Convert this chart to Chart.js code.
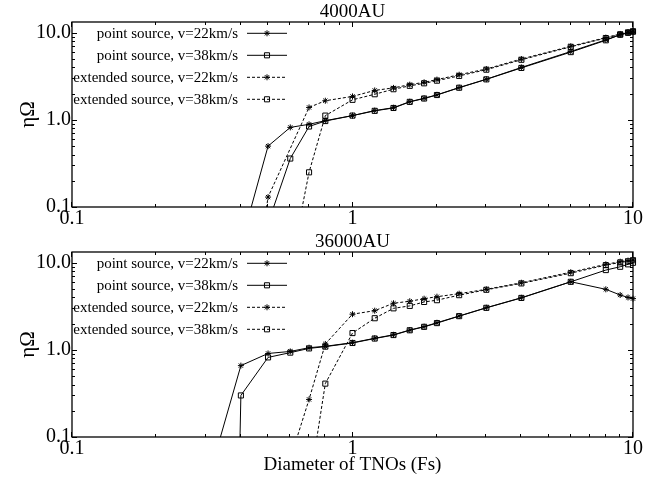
<!DOCTYPE html>
<html>
<head>
<meta charset="utf-8">
<script src="https://cdn.jsdelivr.net/npm/chart.js@4/dist/chart.umd.min.js"></script>
<style>
  html, body { margin: 0; padding: 0; background: #fff; }
  #wrap { position: relative; width: 656px; height: 479px; }
  canvas { position: absolute; left: 0; }
</style>
</head>
<body>
<div id="wrap">
  <canvas id="panelTop" width="656" height="230" style="top:0"></canvas>
  <canvas id="panelBottom" width="656" height="249" style="top:230px"></canvas>
</div>
<script>
// Diameters of TNOs (Fs) at which the efficiency was evaluated
const diameters = [0.3, 0.4, 0.5, 0.6, 0.7, 0.8, 1.0, 1.2, 1.4, 1.6, 1.8, 2.0, 2.4, 3.0, 4.0, 6.0, 8.0, 9.0, 9.6, 10.0];

// 4000 AU
const au4000_point22 = [null, 0.037, 0.50, 0.82, 0.89, 0.98, 1.12, 1.28, 1.38, 1.62, 1.77, 1.94, 2.35, 2.93, 4.0, 6.1, 8.3, 9.5, 10.0, 10.3];
const au4000_point38 = [null, 0.01, 0.065, 0.36, 0.84, 0.97, 1.12, 1.27, 1.37, 1.61, 1.76, 1.93, 2.34, 2.92, 3.95, 6.0, 8.2, 9.5, 10.0, 10.3];
const au4000_ext22   = [null, 0.001, 0.13, null, 1.39, 1.66, 1.86, 2.18, 2.33, 2.54, 2.70, 2.90, 3.30, 3.84, 5.0, 7.0, 8.8, 9.7, 10.2, 10.5];
const au4000_ext38   = [null, null, null, 0.02, 0.25, 1.12, 1.70, 1.97, 2.25, 2.46, 2.63, 2.82, 3.20, 3.77, 4.9, 6.9, 8.7, 9.6, 10.1, 10.4];

// 36000 AU
const au36000_point22 = [0.026, 0.66, 0.91, 0.96, 1.06, 1.10, 1.21, 1.36, 1.49, 1.69, 1.85, 2.05, 2.45, 3.05, 3.97, 6.06, 4.96, 4.27, 4.0, 3.88];
const au36000_point38 = [1e-20, 0.30, 0.82, 0.93, 1.04, 1.09, 1.20, 1.35, 1.48, 1.68, 1.84, 2.03, 2.44, 3.04, 3.95, 6.05, 8.25, 9.0, 9.6, 10.0];
const au36000_ext22   = [null, null, null, 0.056, 0.27, 1.17, 2.57, 2.82, 3.43, 3.62, 3.87, 4.08, 4.42, 4.96, 5.9, 7.8, 9.6, 10.3, 10.6, 10.8];
const au36000_ext38   = [null, null, null, null, 0.026, 0.41, 1.56, 2.31, 3.0, 3.2, 3.55, 3.72, 4.25, 4.9, 5.8, 7.6, 9.4, 10.1, 10.4, 10.7];

const seriesLabels = [
  'point source, v=22km/s',
  'point source, v=38km/s',
  'extended source, v=22km/s',
  'extended source, v=38km/s'
];

const xTickValues = [0.1, 1, 10];
const xTickLabels = ['0.1', '1', '10'];
const yTickValues = [0.1, 1, 10];
const yTickLabels = ['0.1', '1.0', '10.0'];

const xRange = [0.1, 10];
const yRange = [0.1, 13.3];

const SERIF = '"Liberation Serif", "Times New Roman", serif';

function makeDataset(label, values, dashed, marker) {
  return {
    label,
    data: diameters.map((d, i) => ({ x: d, y: values[i] })),
    borderColor: '#000',
    borderWidth: 1,
    borderDash: dashed ? [3, 2] : [],
    pointStyle: marker,
    pointRadius: marker === 'rect' ? 3.6 : 3,
    pointBorderColor: '#000',
    pointBackgroundColor: 'rgba(0,0,0,0)',
    pointBorderWidth: 1,
    tension: 0,
    spanGaps: dashed,
    clip: { left: 0, top: 0, right: 6, bottom: 0 }
  };
}

// Minor/major log tick positions between lo and hi
function logTicks(lo, hi) {
  const out = [];
  for (let e = Math.floor(Math.log10(lo)); e <= Math.ceil(Math.log10(hi)); e++) {
    for (let k = 1; k <= 9; k++) {
      const v = k * Math.pow(10, e);
      if (v >= lo * 0.999 && v <= hi * 1.001) out.push({ v, major: k === 1 });
    }
  }
  return out;
}

// Box frame with inward ticks on all four sides, legend, titles
const framePlugin = {
  id: 'frameTicks',
  afterDraw(chart, args, opts) {
    const ctx = chart.ctx;
    const a = chart.chartArea;
    const xs = chart.scales.x, ys = chart.scales.y;
    ctx.save();
    ctx.strokeStyle = '#000';
    ctx.setLineDash([]);

    // ticks
    ctx.lineWidth = 1;
    ctx.beginPath();
    logTicks(xRange[0], xRange[1]).forEach(t => {
      const px = Math.round(xs.getPixelForValue(t.v)) - 0.5;
      const len = t.major ? 5 : 3;
      ctx.moveTo(px, a.bottom); ctx.lineTo(px, a.bottom - len);
      ctx.moveTo(px, a.top); ctx.lineTo(px, a.top + len);
    });
    logTicks(yRange[0], yRange[1]).forEach(t => {
      const py = Math.round(ys.getPixelForValue(t.v)) + 0.5;
      const len = t.major ? 5 : 3;
      ctx.moveTo(a.left, py); ctx.lineTo(a.left + len, py);
      ctx.moveTo(a.right, py); ctx.lineTo(a.right - len, py);
    });
    ctx.stroke();

    // frame
    ctx.lineWidth = 1.3;
    ctx.strokeRect(a.left, a.top, a.right - a.left, a.bottom - a.top);

    // legend
    ctx.font = '15px ' + SERIF;
    ctx.fillStyle = '#000';
    ctx.textAlign = 'right';
    ctx.textBaseline = 'middle';
    chart.data.datasets.forEach((ds, i) => {
      const y = a.top + 11.3 + i * 22;
      ctx.fillText(ds.label, a.left + 166, y + 0.5);
      ctx.lineWidth = 1;
      ctx.setLineDash(ds.borderDash);
      ctx.beginPath();
      ctx.moveTo(a.left + 175, y); ctx.lineTo(a.left + 215, y);
      ctx.stroke();
      ctx.setLineDash([]);
      ctx.fillStyle = 'rgba(0,0,0,0)';
      Chart.helpers.drawPoint(ctx, {
        pointStyle: ds.pointStyle, radius: ds.pointRadius, borderWidth: 1, rotation: 0
      }, a.left + 195, y);
      ctx.fillStyle = '#000';
    });

    // panel title
    ctx.font = '19px ' + SERIF;
    ctx.textAlign = 'center';
    ctx.textBaseline = 'alphabetic';
    ctx.fillText(opts.title, (a.left + a.right) / 2, 16.5);

    // y axis title
    ctx.save();
    ctx.translate(28, (a.top + a.bottom) / 2);
    ctx.rotate(-Math.PI / 2);
    ctx.font = '21px ' + SERIF;
    ctx.textAlign = 'center';
    ctx.textBaseline = 'middle';
    ctx.fillText('\u03B7\u03A9', 0, 0);
    ctx.restore();

    // x axis title
    if (opts.xTitle) {
      ctx.font = '19px ' + SERIF;
      ctx.textAlign = 'center';
      ctx.textBaseline = 'alphabetic';
      ctx.fillText(opts.xTitle, (a.left + a.right) / 2, a.bottom + 33);
    }
    ctx.restore();
  }
};

function makePanel(canvasId, title, xTitle, xAxisHeight, vals) {
  const datasets = [
    makeDataset(seriesLabels[0], vals[0], false, 'star'),
    makeDataset(seriesLabels[1], vals[1], false, 'rect'),
    makeDataset(seriesLabels[2], vals[2], true, 'star'),
    makeDataset(seriesLabels[3], vals[3], true, 'rect')
  ];
  return new Chart(document.getElementById(canvasId), {
    type: 'line',
    data: { datasets },
    plugins: [framePlugin],
    options: {
      responsive: false,
      animation: false,
      devicePixelRatio: 1,
      events: [],
      layout: { padding: { left: 0, right: 23, top: 22, bottom: 0 } },
      plugins: {
        legend: { display: false },
        tooltip: { enabled: false },
        title: { display: false },
        frameTicks: { title, xTitle }
      },
      scales: {
        x: {
          type: 'logarithmic',
          min: xRange[0], max: xRange[1],
          grid: { display: false, drawTicks: false },
          border: { display: false },
          afterBuildTicks: s => { s.ticks = xTickValues.map(v => ({ value: v, major: true })); },
          afterFit: s => { s.height = xAxisHeight; },
          ticks: {
            autoSkip: false, maxRotation: 0, padding: 0,
            color: '#000',
            font: { family: SERIF, size: 20 },
            callback: (v, i) => xTickLabels[i]
          }
        },
        y: {
          type: 'logarithmic',
          min: yRange[0], max: yRange[1],
          grid: { display: false, drawTicks: false },
          border: { display: false },
          afterBuildTicks: s => { s.ticks = yTickValues.map(v => ({ value: v, major: true })); },
          afterFit: s => { s.width = 72; },
          ticks: {
            autoSkip: false, padding: 1,
            color: '#000',
            font: { family: SERIF, size: 20 },
            callback: (v, i) => yTickLabels[i]
          }
        }
      }
    }
  });
}

makePanel('panelTop', '4000AU', null, 23,
  [au4000_point22, au4000_point38, au4000_ext22, au4000_ext38]);
makePanel('panelBottom', '36000AU', 'Diameter of TNOs (Fs)', 42,
  [au36000_point22, au36000_point38, au36000_ext22, au36000_ext38]);
</script>
</body>
</html>
